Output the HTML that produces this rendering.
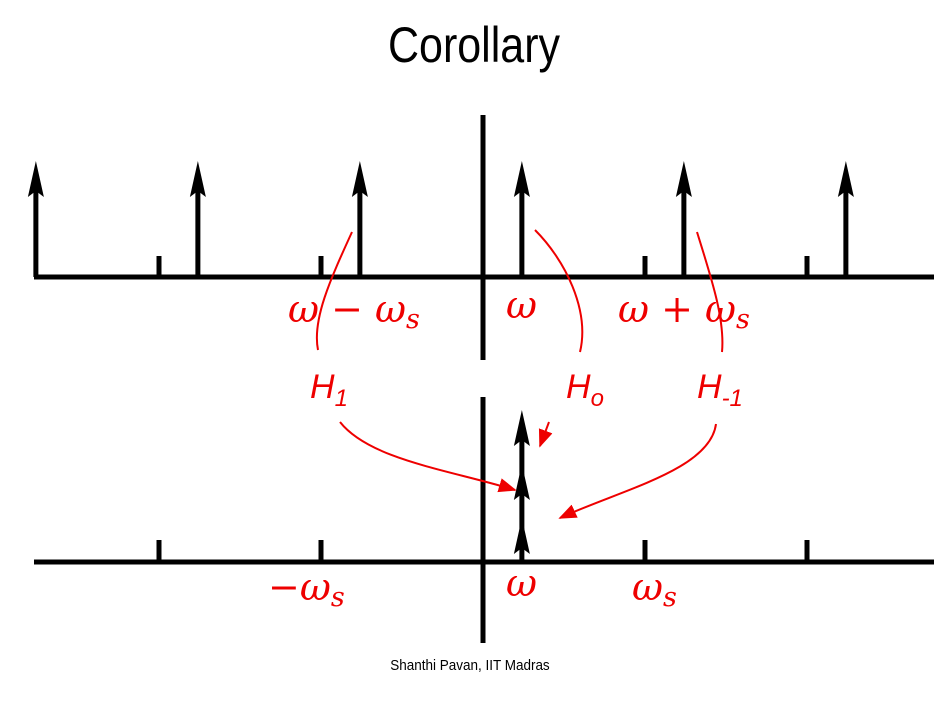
<!DOCTYPE html>
<html><head><meta charset="utf-8"><style>
html,body{margin:0;padding:0;background:#fff;}
svg{display:block;}
.lab{font-family:"DejaVu Serif","Liberation Serif",serif;font-style:italic;fill:#e00;}
</style></head><body>
<svg id="c" width="942" height="703" viewBox="0 0 942 703">
<defs>
<marker id="ah" viewBox="0 0 10 10" refX="9" refY="5" markerWidth="9" markerHeight="9" orient="auto"><path d="M0,1 L10,5 L0,9 z" fill="#e00"/></marker>
</defs>
<text x="0" y="62" text-anchor="middle" font-family="Liberation Sans, sans-serif" font-size="50" transform="translate(474,0) scale(0.86,1)">Corollary</text>
<text x="0" y="670" text-anchor="middle" font-family="Liberation Sans, sans-serif" font-size="15" transform="translate(470,0) scale(0.9,1)">Shanthi Pavan, IIT Madras</text>
<g id="g"></g>
</svg>
<script>
// frequency positions in units of ωs
const tickPositions = [-2, -1, 1, 2];
const omega = 0.24;
const topImpulseOffsets = [-3, -2, -1, 0, 1, 2];
const bottomStackCount = [3];
const ns = "http://www.w3.org/2000/svg";
const g = document.getElementById('g');
const X = f => 483 + f * 162;
function el(tag, attrs, name){
  const e = document.createElementNS(ns, tag);
  for (const k in attrs) e.setAttribute(k, attrs[k]);
  
  
  g.appendChild(e); return e;
}
const blk = {stroke:'#000','stroke-width':5,'stroke-linecap':'butt'};
function line(x1,y1,x2,y2,name,st){return el('line',Object.assign({x1,y1,x2,y2},st||blk),name);}
function head(x,yTip,name){return el('path',{d:`M${x},${yTip} L${x-8},${yTip+36} L${x},${yTip+30} L${x+8},${yTip+36} Z`,fill:'#000'},name);}
// top axis
line(34,277,934,277,'top-x-axis');
line(483,115,483,360,'top-y-axis');
tickPositions.forEach(t=>line(X(t),256,X(t),277,'top-tick'));
topImpulseOffsets.forEach(k=>{const x=X(omega+k);line(x,277,x,190,'top-impulse');head(x,161,'top-impulse-head');});
// bottom axis
line(34,562,934,562,'bottom-x-axis');
line(483,397,483,643,'bottom-y-axis');
tickPositions.forEach(t=>line(X(t),540,X(t),562,'bottom-tick'));
const bx=X(omega);
line(bx,562,bx,432,'bottom-impulse');
for(let i=0;i<bottomStackCount[0];i++){head(bx,410+i*54,'bottom-impulse-head');}
// red curves
const red={stroke:'#e00','stroke-width':2,fill:'none'};
el('path',Object.assign({d:'M352,232 C330,280 312,320 318,350'},red),'h1-bracket');
el('path',Object.assign({d:'M535,230 C565,260 590,310 580,352'},red),'h0-bracket');
el('path',Object.assign({d:'M697,232 C712,280 725,320 722,352'},red),'hm1-bracket');
el('path',Object.assign({d:'M340,422 C370,460 450,470 515,490','marker-end':'url(#ah)'},red),'h1-arrow');
el('path',Object.assign({d:'M549,422 L540,446','marker-end':'url(#ah)'},red),'h0-arrow');
el('path',Object.assign({d:'M716,424 C710,470 620,490 560,518','marker-end':'url(#ah)'},red),'hm1-arrow');
// labels
function txt(x,y,s,name,size){const t=el('text',{x,y,class:'lab','font-size':size||38},name);t.innerHTML=s;return t;}
txt(288,322,'ω − ω<tspan font-size="27" dy="6">s</tspan>','label-omega-minus-ws');
txt(506,318,'ω','label-omega-top');
txt(618,322,'ω + ω<tspan font-size="27" dy="6">s</tspan>','label-omega-plus-ws');
const h=(x,y,s,sub,name)=>{const t=el('text',{x,y,fill:'#e00','font-family':'Liberation Sans, sans-serif','font-style':'italic','font-size':34},name);t.innerHTML=s+'<tspan font-size="24" dy="8">'+sub+'</tspan>';};
h(310,398,'H','1','label-h1');
h(566,398,'H','o','label-h0');
h(697,398,'H','-1','label-hm1');
txt(268,600,'−ω<tspan font-size="27" dy="6">s</tspan>','label-minus-ws');
txt(506,596,'ω','label-omega-bottom');
txt(632,600,'ω<tspan font-size="27" dy="6">s</tspan>','label-ws');
</script>
</body></html>
